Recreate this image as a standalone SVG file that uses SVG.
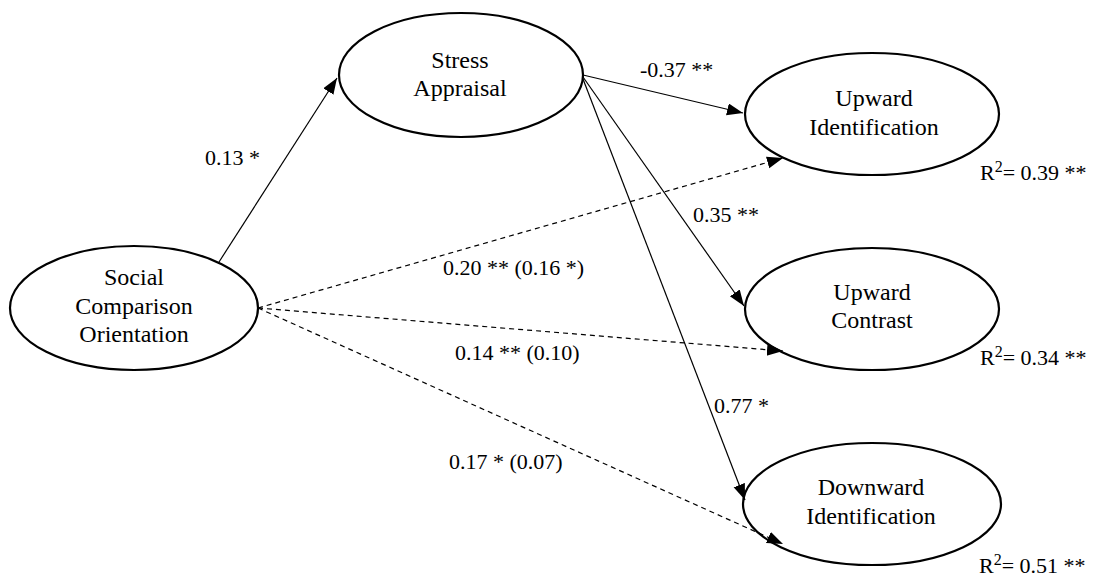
<svg xmlns="http://www.w3.org/2000/svg" width="1103" height="577" viewBox="0 0 1103 577">
<style>
.node{fill:#fff;stroke:#000;stroke-width:2.2}
.lbl{font-family:"Liberation Serif",serif;font-size:24px;fill:#000;text-anchor:middle}
.el{font-family:"Liberation Serif",serif;font-size:22px;fill:#000}
.e{stroke:#000;stroke-width:1.2;fill:none;marker-end:url(#ah)}
.d{stroke-dasharray:5,4}
</style>
<defs>
<marker id="ah" markerUnits="userSpaceOnUse" markerWidth="18" markerHeight="14" refX="16" refY="6" orient="auto">
<path d="M0,0 L16,6 L0,12 z" fill="#000"/>
</marker>
</defs>
<g id="sco">
<ellipse class="node" cx="134" cy="308" rx="124" ry="62"/>
<text class="lbl" x="134" y="285">Social</text>
<text class="lbl" x="134" y="314">Comparison</text>
<text class="lbl" x="134" y="342">Orientation</text>
</g>
<g id="stress">
<ellipse class="node" cx="461" cy="75" rx="122" ry="62"/>
<text class="lbl" x="460" y="68">Stress</text>
<text class="lbl" x="460" y="96">Appraisal</text>
</g>
<g id="upid">
<ellipse class="node" cx="872" cy="114" rx="127" ry="61"/>
<text class="lbl" x="874" y="106">Upward</text>
<text class="lbl" x="874" y="135">Identification</text>
<text class="el" x="980" y="180">R<tspan font-size="16" dy="-8">2</tspan><tspan dy="8">= 0.39 **</tspan></text>
</g>
<g id="upcon">
<ellipse class="node" cx="872" cy="309" rx="127" ry="61"/>
<text class="lbl" x="872" y="300">Upward</text>
<text class="lbl" x="872" y="328">Contrast</text>
<text class="el" x="980" y="365">R<tspan font-size="16" dy="-8">2</tspan><tspan dy="8">= 0.34 **</tspan></text>
</g>
<g id="downid">
<ellipse class="node" cx="872" cy="504" rx="129" ry="61"/>
<text class="lbl" x="871" y="495">Downward</text>
<text class="lbl" x="871" y="524">Identification</text>
<text class="el" x="979" y="573">R<tspan font-size="16" dy="-8">2</tspan><tspan dy="8">= 0.51 **</tspan></text>
</g>
<g id="connectors">
<line class="e" x1="219" y1="262" x2="337" y2="78"/>
<line class="e" x1="583" y1="75" x2="743" y2="113"/>
<line class="e" x1="583" y1="77" x2="744" y2="306"/>
<line class="e" x1="583" y1="79" x2="745" y2="500"/>
<line class="e d" x1="258" y1="308" x2="783" y2="158"/>
<line class="e d" x1="258" y1="308" x2="783" y2="351"/>
<line class="e d" x1="258" y1="308" x2="783" y2="544"/>
</g>
<g id="edge-labels">
<text class="el" x="205" y="165">0.13 *</text>
<text class="el" x="640" y="77">-0.37 **</text>
<text class="el" x="693" y="222">0.35 **</text>
<text class="el" x="443" y="275">0.20 ** (0.16 *)</text>
<text class="el" x="455" y="360">0.14 ** (0.10)</text>
<text class="el" x="714" y="413">0.77 *</text>
<text class="el" x="449" y="469">0.17 * (0.07)</text>
</g>
</svg>
